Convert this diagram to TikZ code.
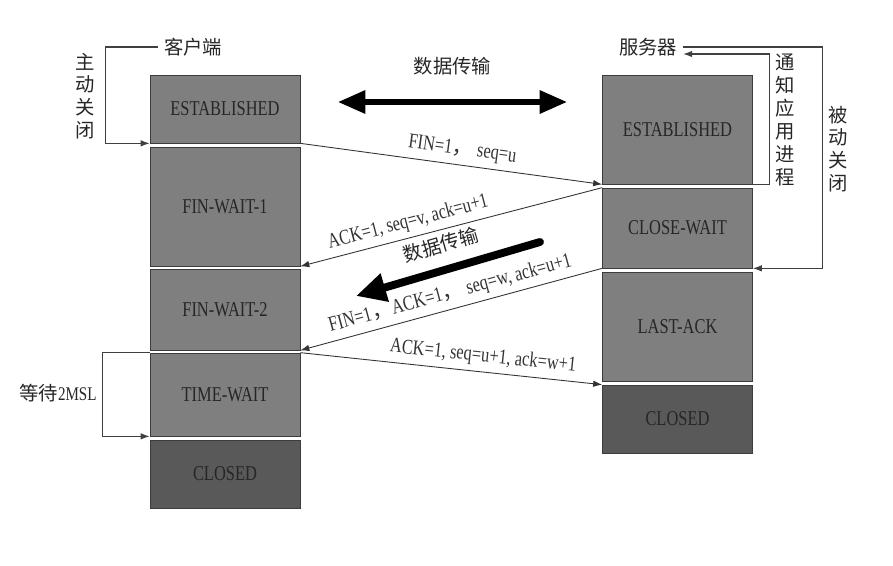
\documentclass[tikz,border=0pt]{standalone}
\usepackage{fontspec}
\setmainfont[FakeStretch=0.78]{Liberation Serif}
\newfontfamily\cjk{Noto Sans CJK SC}
\usetikzlibrary{positioning,arrows.meta,calc}
\definecolor{boxgray}{HTML}{7F7F7F}
\definecolor{closedgray}{HTML}{595959}
\definecolor{edgegray}{HTML}{3C3C3C}

\begin{document}
\begin{tikzpicture}[x=0.02cm,y=-0.02cm,
  state/.style={draw=edgegray,fill=boxgray,minimum width=3cm,inner sep=2pt,font=\fontsize{12}{14}\selectfont,text=black!85},
  closed/.style={state,fill=closedgray},
  msg/.style={draw=black!80,line width=0.5pt,-{Latex[length=1.8mm,width=1.3mm]}},
  msglabel/.style={font=\fontsize{12}{14}\selectfont,text=black!80,sloped,above=2.5pt,inner sep=0.5pt},
  side/.style={draw=black!75,line width=0.6pt,-{Latex[length=1.8mm,width=1.3mm]}},
  zh/.style={font=\cjk\fontsize{11}{13}\selectfont,text=black!85},
  vert/.style={zh,align=center}]
\useasboundingbox (0,0) rectangle (893,565);
\node[state,minimum height=1.36cm] (cest) at (225,109) {ESTABLISHED};
\node[state,minimum height=2.38cm] (fw1) at (225,206.5) {FIN-WAIT-1};
\node[state,minimum height=1.62cm] (fw2) at (225,309.5) {FIN-WAIT-2};
\node[state,minimum height=1.66cm] (tw) at (225,394.5) {TIME-WAIT};
\node[closed,minimum height=1.36cm] (ccl) at (225,474) {CLOSED};
\node[state,minimum height=2.18cm] (sest) at (677.5,129.5) {ESTABLISHED};
\node[state,minimum height=1.6cm] (cw) at (677.5,228) {CLOSE-WAIT};
\node[state,minimum height=2.18cm] (la) at (677.5,326.5) {LAST-ACK};
\node[closed,minimum height=1.36cm] (scl) at (677.5,419) {CLOSED};
\node[zh] (client) at (193,47) {客户端};
\node[zh] (server) at (648,47) {服务器};
\node[vert] (active) at (85,96) {主\\动\\关\\闭};
\node[vert] (notify) at (785,120) {通\\知\\应\\用\\进\\程};
\node[vert] (passive) at (838,149) {被\\动\\关\\闭};
\node[zh] (wait) at (58,393) {等待\rmfamily 2MSL};
\coordinate (dl) at (338,102); \coordinate (dr) at (567,102);
\coordinate (dt) at (540,242); \coordinate (dh) at (356,296);
\draw[line width=3pt,{Triangle[length=5.5mm,width=4.5mm]}-{Triangle[length=5.5mm,width=4.5mm]}] (dl) -- (dr) node[zh,midway,above=3.6mm] (data1) {数据传输};
\draw[line width=4.5pt,line cap=round,-{Triangle[length=6mm,width=5.5mm]}] (dt) -- (dh) node[zh,midway,sloped,above=2.3mm,inner sep=0.5pt] (data2) {数据传输};
\draw[msg] (cest.south east) -- (sest.south west) node[msglabel,pos=0.53] (m1) {FIN=1{\cjk ，}\ seq=u};
\draw[msg] (cw.north west) -- (fw1.south east) node[msglabel,pos=0.63] (m2) {ACK=1, seq=v, ack=u+1};
\draw[msg] (cw.south west) -- (fw2.south east) node[msglabel,pos=0.49] (m3) {FIN=1{\cjk ，}ACK=1{\cjk ，}\ seq=w, ack=u+1};
\draw[msg] (tw.north east) -- (scl.north west) node[msglabel,pos=0.6] (m4) {ACK=1, seq=u+1, ack=w+1};
\draw[side] (client.west) -- ++(-52,0) |- (cest.south west);
\draw[side] (tw.north west) -- ++(-47,0) |- (tw.south west);
\draw[side] (server.east) -- ++(139,0) |- (cw.south east);
\draw[side] (sest.south east) -- ++(17,0) |- ($(server.east)+(0,7)$);
\end{tikzpicture}
\end{document}
